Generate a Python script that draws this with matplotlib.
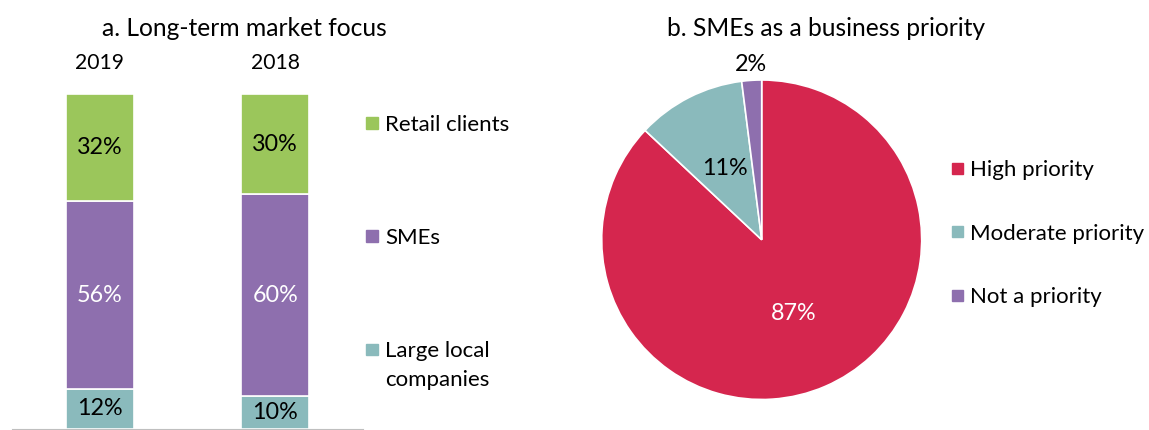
import numpy as np
import matplotlib
matplotlib.use("Agg")
import matplotlib.pyplot as plt
from matplotlib.patches import Rectangle

plt.rcParams["font.family"] = ["Lato", "DejaVu Sans"]

W, H = 1149, 430

# a. long-term market focus (stacked, bottom to top)
years = ["2019", "2018"]
large_local = [12, 10]
smes = [56, 60]
retail = [32, 30]
focus_labels = ["Retail clients", "SMEs", "Large local\ncompanies"]

# b. SMEs as a business priority
priority_labels = ["High priority", "Moderate priority", "Not a priority"]
priority_share = [87, 11, 2]

GREEN = "#9BC65B"
PURPLE = "#8E6FAE"
TEAL = "#8ABABC"
RED = "#D5264E"

LEG_FS = 16
VAL_FS = 16.8


def px(x, y):
    return x / W, 1 - y / H


def legend_items(fig, labels, colors, ys, x_sq, fs):
    sq = 11.5
    for lab, col, yc in zip(labels, colors, ys):
        fig.patches.append(Rectangle(px(x_sq, yc + sq / 2), sq / W, sq / H,
                                     transform=fig.transFigure, color=col, figure=fig))
        for i, line in enumerate(lab.split("\n")):
            fig.text(*px(x_sq + 19, yc + 0.497 * fs + 29 * i), line, fontsize=fs,
                     va="baseline", ha="left")


fig = plt.figure(figsize=(W / 100, H / 100), dpi=100)

# --- left panel: stacked bars
ax1 = fig.add_axes([12 / W, 1 / H, 351 / W, 335 / H])
x = np.arange(len(years))
bottom = np.zeros(len(years))
for vals, col, tc in [(large_local, TEAL, "black"), (smes, PURPLE, "white"), (retail, GREEN, "black")]:
    bars = ax1.bar(x, vals, 0.39, bottom=bottom, color=col, edgecolor="white", linewidth=1.2)
    ax1.bar_label(bars, labels=[f"{v}%" for v in vals], label_type="center",
                  color=tc, fontsize=VAL_FS)
    bottom += vals
ax1.set_xlim(-0.5, 1.5)
ax1.set_ylim(0, 100)
ax1.xaxis.tick_top()
ax1.set_xticks(x, years, fontsize=15.2)
ax1.tick_params(axis="x", length=0, pad=15)
ax1.set_yticks([])
for s in ["top", "left", "right"]:
    ax1.spines[s].set_visible(False)
ax1.spines["bottom"].set_color("#BFBFBF")

fig.text(*px(244, 29), "a. Long-term market focus", fontsize=17.7, ha="center", va="center")
legend_items(fig, focus_labels, [GREEN, PURPLE, TEAL], [123, 236, 349.5], 366, LEG_FS)

# --- right panel: pie
ax2 = fig.add_axes([601.7 / W, 30.5 / H, 320 / W, 319.5 / H])
wedges, texts, autotexts = ax2.pie(priority_share, colors=[RED, TEAL, PURPLE],
                                   startangle=90, counterclock=False, autopct="%.0f%%",
                                   pctdistance=0.5,
                                   wedgeprops=dict(edgecolor="white", linewidth=1.2),
                                   textprops=dict(fontsize=VAL_FS))
ax2.set_aspect("auto")
ax2.set_xlim(-1, 1)
ax2.set_ylim(-1, 1)
for w in wedges:
    w.set_clip_on(False)
autotexts[0].set_color("white")
w = wedges[2]
ang = np.deg2rad((w.theta1 + w.theta2) / 2)
autotexts[2].set_position((1.1 * np.cos(ang), 1.1 * np.sin(ang)))

fig.text(*px(826.5, 29), "b. SMEs as a business priority", fontsize=17.7, ha="center", va="center")
legend_items(fig, priority_labels, [RED, TEAL, PURPLE], [168.3, 231.7, 295.5], 951.5, LEG_FS)

fig.savefig("out.png", dpi=100)
